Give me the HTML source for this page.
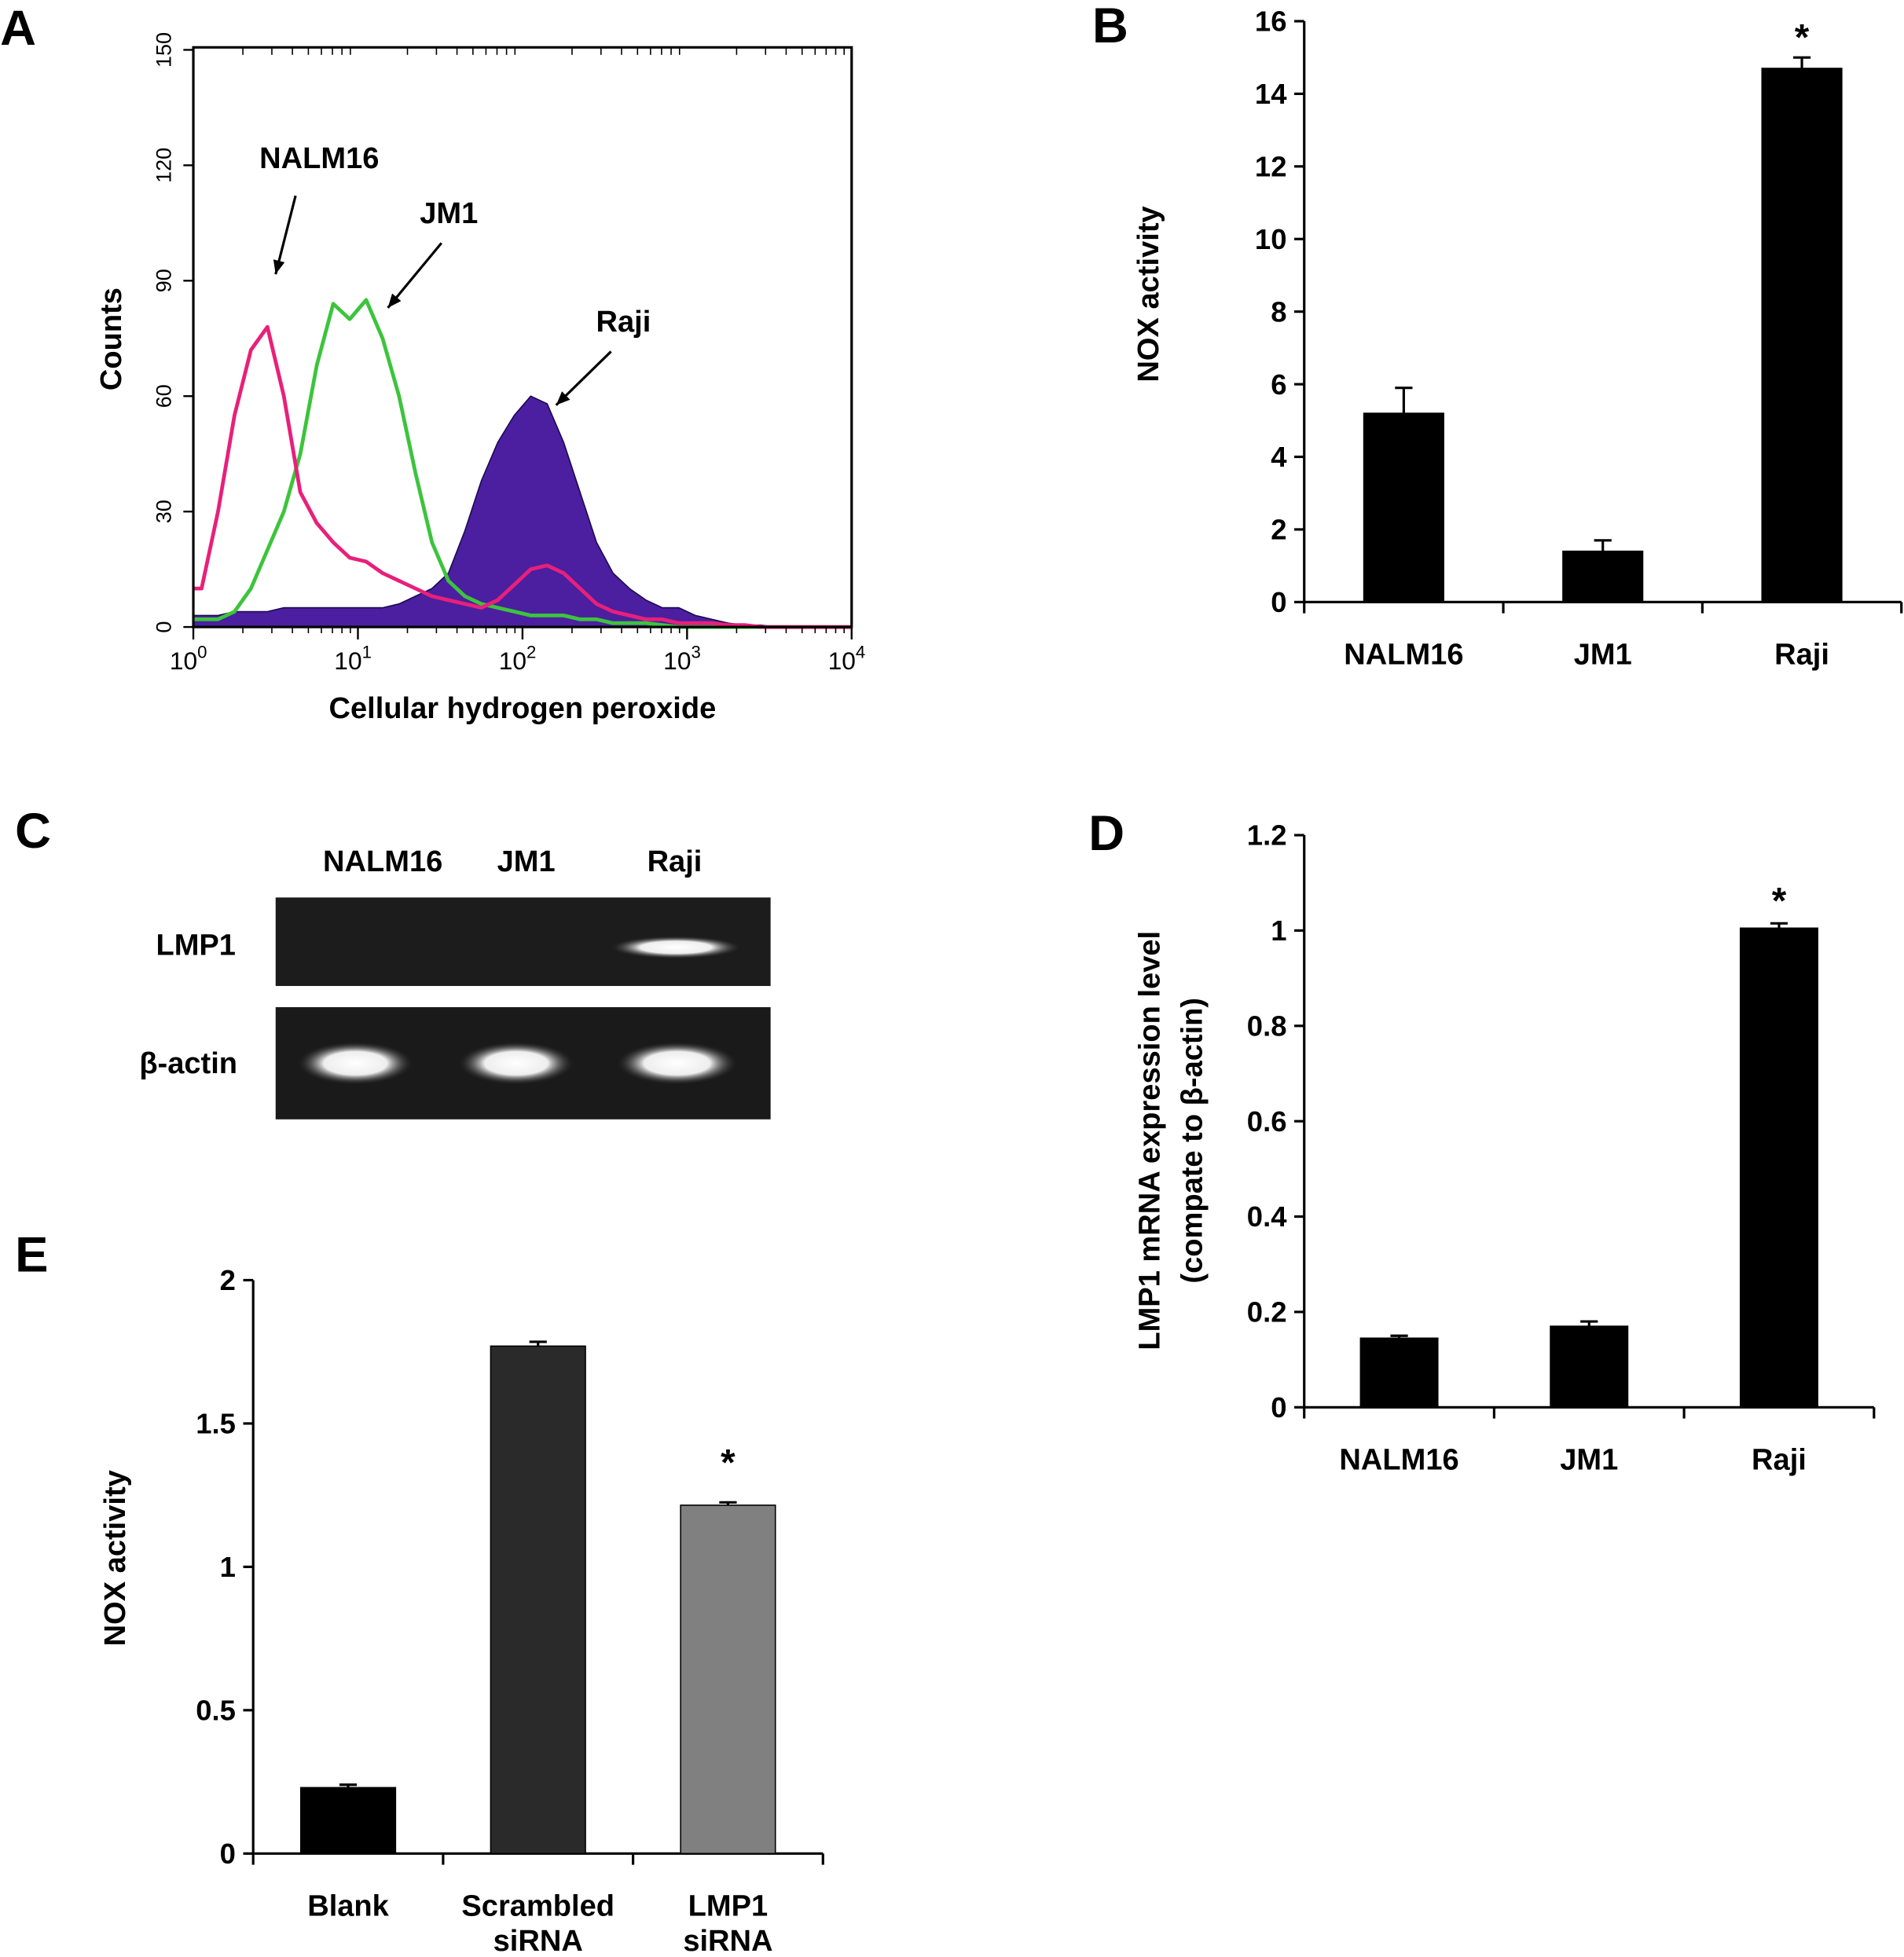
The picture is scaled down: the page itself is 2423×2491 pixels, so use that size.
<!DOCTYPE html>
<html><head><meta charset="utf-8"><style>
html,body{margin:0;padding:0;background:#fff}
svg{display:block;font-family:"Liberation Sans",Arial,sans-serif;font-weight:bold}
</style></head><body>
<svg id="fig" width="2423" height="2491" viewBox="0 0 1527 1570" xmlns="http://www.w3.org/2000/svg">
<defs>
<radialGradient id="band" cx="50%" cy="50%" r="50%"><stop offset="0" stop-color="#fff"/><stop offset="0.55" stop-color="#eee"/><stop offset="1" stop-color="#333" stop-opacity="0"/></radialGradient>
</defs>
<g font-size="40">
<text x="0" y="36">A</text>
<text x="876" y="34">B</text>
<text x="12" y="680">C</text>
<text x="873" y="682">D</text>
<text x="12" y="1020">E</text>
</g>
<g id="pa"></g>
<g id="pb"></g>
<g id="pc">
<rect x="221" y="720" width="397" height="71" fill="#1c1c1c"/>
<rect x="221" y="808" width="397" height="90" fill="#1a1a1a"/>
<ellipse cx="542" cy="760" rx="52" ry="9" fill="url(#band)"/>
<ellipse cx="285" cy="853" rx="46" ry="17" fill="url(#band)"/>
<ellipse cx="414" cy="853" rx="46" ry="17" fill="url(#band)"/>
<ellipse cx="543" cy="853" rx="48" ry="17" fill="url(#band)"/>
<g font-size="24" text-anchor="middle">
<text x="307" y="699">NALM16</text>
<text x="422" y="699">JM1</text>
<text x="541" y="699">Raji</text>
<text x="157" y="766">LMP1</text>
<text x="151" y="861">β-actin</text>
</g>
</g>
<g id="pd"></g>
<g id="pe"></g>
</svg>
<script>
const aLogX = Array.from({length:41},(_,i)=>i/10);
const nalm16Counts=[10,30,55,72,78,60,35,27,22,18,17,14,12,10,8,7,6,5,7,11,15,16,14,10,6,4,3,2,2,1,1,1,0.5,0.5,0,0,0,0,0,0,0];
const jm1Counts=[2,2,4,10,20,30,45,68,84,80,85,75,60,40,22,12,8,6,5,4,3,3,3,2,2,1,1,1,0.5,0,0,0,0,0,0,0,0,0,0,0,0];
const rajiCounts=[3,3,4,4,4,5,5,5,5,5,5,5,6,8,10,14,25,38,48,55,60,58,48,35,22,14,10,7,5,5,3,2,1,0.5,0.5,0,0,0,0,0,0];
const aYTicks=[0,30,60,90,120,150];
const aXTicks=["0","1","2","3","4"];
const bCats=["NALM16","JM1","Raji"], bVals=[5.2,1.4,14.7], bErr=[0.7,0.3,0.3], bTicks=[0,2,4,6,8,10,12,14,16];
const dCats=["NALM16","JM1","Raji"], dVals=[0.145,0.17,1.005], dErr=[0.005,0.01,0.01], dTicks=[0,0.2,0.4,0.6,0.8,1,1.2];
const eCats=[["Blank"],["Scrambled","siRNA"],["LMP1","siRNA"]], eVals=[0.23,1.77,1.215], eErr=[0.01,0.015,0.01], eTicks=[0,0.5,1,1.5,2];

const NS="http://www.w3.org/2000/svg";
function mk(p,tag,at,txt){const e=document.createElementNS(NS,tag);for(const k in at)e.setAttribute(k,at[k]);if(txt!==undefined)e.textContent=txt;p.appendChild(e);return e;}

(function(){
const g=document.getElementById('pa');
const x0=155,x1=683,y0=503,y1=40;
const X=v=>x0+(x1-x0)*v/4, Y=v=>y0-(y0-y1)*v/150;
function path(arr){let d='M'+x0+','+Y(arr[0]);arr.forEach((c,i)=>{d+='L'+X(Math.min(4,aLogX[i]+0.05))+','+Y(c);});return d;}
let e=mk(g,'path',{d:path(rajiCounts)+'L'+x1+','+y0+'L'+x0+','+y0+'Z',fill:'#4b1fa0',stroke:'#1a0a50','stroke-width':1});

e=mk(g,'path',{d:path(jm1Counts),fill:'none',stroke:'#3cc43c','stroke-width':3,'stroke-linejoin':'round'});

e=mk(g,'path',{d:path(nalm16Counts),fill:'none',stroke:'#e8207a','stroke-width':3,'stroke-linejoin':'round'});

e=mk(g,'rect',{x:x0,y:y1-2,width:x1-x0,height:y0-y1+2,fill:'none',stroke:'#000','stroke-width':2});

aYTicks.forEach(t=>{mk(g,'line',{x1:x0-8,x2:x0,y1:Y(t),y2:Y(t),stroke:'#000','stroke-width':1.5});
 const l=mk(g,'text',{x:0,y:0,transform:`translate(${x0-18},${Y(t)}) rotate(-90)`,'text-anchor':'middle','font-size':17,'font-weight':'normal'},t);
 });
for(let d=0;d<4;d++)for(let k=2;k<10;k++){const xx=X(d+Math.log10(k));mk(g,'line',{x1:xx,x2:xx,y1:y0,y2:y0+5,stroke:'#000'});mk(g,'line',{x1:xx,x2:xx,y1:y1-2,y2:y1+4,stroke:'#000'});}
aXTicks.forEach((t,i)=>{mk(g,'line',{x1:X(i),x2:X(i),y1:y0,y2:y0+10,stroke:'#000','stroke-width':1.5});
 const l=mk(g,'text',{x:X(i)-4,y:y0+34,'text-anchor':'middle','font-size':20,'font-weight':'normal'});
 
 l.textContent='10';mk(l,'tspan',{dy:-9,'font-size':14},t);});
e=mk(g,'text',{x:419,y:576,'text-anchor':'middle','font-size':24},'Cellular hydrogen peroxide');
e=mk(g,'text',{transform:'translate(97,272) rotate(-90)','text-anchor':'middle','font-size':24},'Counts');
[['NALM16',256,135,237,157,221,220],['JM1',360,179,354,195,311,247],['Raji',500,266,490,282,446,325]].forEach(a=>{
 let t=mk(g,'text',{x:a[1],y:a[2],'text-anchor':'middle','font-size':24},a[0]);
 mk(g,'line',{x1:a[3],y1:a[4],x2:a[5],y2:a[6],stroke:'#000','stroke-width':2});
 const ang=Math.atan2(a[6]-a[4],a[5]-a[3]),L=12;
 mk(g,'path',{d:`M${a[5]},${a[6]}L${a[5]-L*Math.cos(ang-0.4)},${a[6]-L*Math.sin(ang-0.4)}L${a[5]-L*Math.cos(ang+0.4)},${a[6]-L*Math.sin(ang+0.4)}Z`,fill:'#000'});});
})();

function bars(g,o){
 const Y=v=>o.y0-(o.y0-o.y1)*v/o.max;
 mk(g,'line',{x1:o.ax,x2:o.ax,y1:o.y1,y2:o.y0,stroke:'#000','stroke-width':2});
 mk(g,'line',{x1:o.ax,x2:o.axEnd,y1:o.y0,y2:o.y0,stroke:'#000','stroke-width':2});
 o.ticks.forEach(t=>{mk(g,'line',{x1:o.ax-8,x2:o.ax,y1:Y(t),y2:Y(t),stroke:'#000','stroke-width':2});
  const l=mk(g,'text',{x:o.ax-14,y:Y(t)+8,'text-anchor':'end','font-size':23},String(t));
  });
 const n=o.vals.length,w=(o.axEnd-o.ax)/n;
 for(let i=0;i<=n;i++){const xx=o.ax+w*i;mk(g,'line',{x1:xx,x2:xx,y1:o.y0,y2:o.y0+9,stroke:'#000','stroke-width':2});}
 o.vals.forEach((v,i)=>{const cx=o.ax+w*(i+0.5),bw=o.bw;
  const r=mk(g,'rect',{x:cx-bw/2,y:Y(v),width:bw,height:o.y0-Y(v),fill:o.fills[i],stroke:'#000','stroke-width':1});
  
  const ey=Y(v+o.err[i]);mk(g,'line',{x1:cx,x2:cx,y1:Y(v),y2:ey,stroke:'#000','stroke-width':2});
  mk(g,'line',{x1:cx-7,x2:cx+7,y1:ey,y2:ey,stroke:'#000','stroke-width':2});
  const lab=[].concat(o.cats[i]);
  lab.forEach((s,k)=>{const l=mk(g,'text',{x:cx,y:o.y0+50+k*28,'text-anchor':'middle','font-size':24},s);
   });
  if(o.star===i){const s=mk(g,'text',{x:cx,y:ey-o.starGap,'text-anchor':'middle','font-size':30},'*');}
 });
 o.titles.forEach((t,k)=>{const l=mk(g,'text',{transform:`translate(${o.tx+k*34},${o.ty}) rotate(-90)`,'text-anchor':'middle','font-size':24},t);
  });
}
bars(document.getElementById('pb'),{ax:1046,axEnd:1525,y0:483,y1:17,max:16,ticks:bTicks,vals:bVals,err:bErr,cats:bCats,bw:64,fills:['#000','#000','#000'],star:2,starGap:6,titles:['NOX activity'],tx:929,ty:236});
bars(document.getElementById('pd'),{ax:1046,axEnd:1503,y0:1129,y1:670,max:1.2,ticks:dTicks,vals:dVals,err:dErr,cats:dCats,bw:62,fills:['#000','#000','#000'],star:2,starGap:8,titles:['LMP1 mRNA expression level','(compate to β-actin)'],tx:930,ty:915});
bars(document.getElementById('pe'),{ax:203,axEnd:660,y0:1487,y1:1027,max:2,ticks:eTicks,vals:eVals,err:eErr,cats:eCats,bw:76,fills:['#000','#2a2a2a','#808080'],star:2,starGap:22,titles:['NOX activity'],tx:100,ty:1250});
</script>
</body></html>
